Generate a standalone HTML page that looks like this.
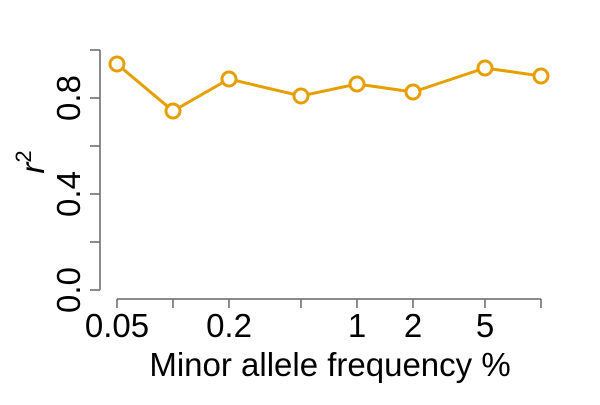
<!DOCTYPE html>
<html><head><style>body{margin:0;background:#fff}</style></head><body>
<svg width="600" height="400" xmlns="http://www.w3.org/2000/svg" font-family="Liberation Sans, sans-serif">
<g stroke="#666" stroke-width="1.5" fill="none">
<line x1="100" y1="50" x2="100" y2="290"/>
<line x1="90" y1="50" x2="100" y2="50"/>
<line x1="90" y1="98" x2="100" y2="98"/>
<line x1="90" y1="146" x2="100" y2="146"/>
<line x1="90" y1="194" x2="100" y2="194"/>
<line x1="90" y1="242" x2="100" y2="242"/>
<line x1="90" y1="290" x2="100" y2="290"/>
<line x1="117" y1="299" x2="541" y2="299"/>
<line x1="117" y1="299" x2="117" y2="308"/>
<line x1="173" y1="299" x2="173" y2="308"/>
<line x1="229" y1="299" x2="229" y2="308"/>
<line x1="301" y1="299" x2="301" y2="308"/>
<line x1="357" y1="299" x2="357" y2="308"/>
<line x1="413" y1="299" x2="413" y2="308"/>
<line x1="485" y1="299" x2="485" y2="308"/>
<line x1="541" y1="299" x2="541" y2="308"/>
</g>
<g font-size="33" fill="#000" text-anchor="middle">
<text x="117" y="337">0.05</text>
<text x="229" y="337">0.2</text>
<text x="357" y="337">1</text>
<text x="413" y="337">2</text>
<text x="485" y="337">5</text>
<text transform="translate(80,290) rotate(-90)">0.0</text>
<text transform="translate(80,194) rotate(-90)">0.4</text>
<text transform="translate(80,98) rotate(-90)">0.8</text>
<text x="330" y="376">Minor allele frequency %</text>
<text transform="translate(44,162) rotate(-90)" font-style="italic">r<tspan font-size="22" dy="-13" font-style="normal">2</tspan></text>
</g>
<polyline points="117,64 173,111 229,79 301,96 357,84 413,92 485,68 541,76" fill="none" stroke="#E69F00" stroke-width="3"/>
<g fill="#fff" stroke="#E69F00" stroke-width="3">
<circle cx="117" cy="64" r="7"/><circle cx="173" cy="111" r="7"/><circle cx="229" cy="79" r="7"/><circle cx="301" cy="96" r="7"/><circle cx="357" cy="84" r="7"/><circle cx="413" cy="92" r="7"/><circle cx="485" cy="68" r="7"/><circle cx="541" cy="76" r="7"/>
</g>
</svg>
</body></html>
